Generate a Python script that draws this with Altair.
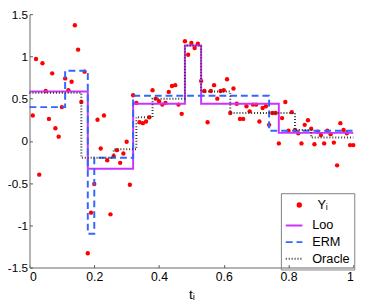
import altair as alt
import pandas as pd

# ---- data ----
t_vals = [0.01, 0.02, 0.03, 0.04, 0.05, 0.06, 0.07, 0.08, 0.09, 0.10,
          0.11, 0.12, 0.13, 0.14, 0.15, 0.16, 0.17, 0.18, 0.19, 0.20,
          0.21, 0.22, 0.23, 0.24, 0.25, 0.26, 0.27, 0.28, 0.29, 0.30,
          0.31, 0.32, 0.33, 0.34, 0.35, 0.36, 0.37, 0.38, 0.39, 0.40,
          0.41, 0.42, 0.43, 0.44, 0.45, 0.46, 0.47, 0.48, 0.49, 0.50,
          0.51, 0.52, 0.53, 0.54, 0.55, 0.56, 0.57, 0.58, 0.59, 0.60,
          0.61, 0.62, 0.63, 0.64, 0.65, 0.66, 0.67, 0.68, 0.69, 0.70,
          0.71, 0.72, 0.73, 0.74, 0.75, 0.76, 0.77, 0.78, 0.79, 0.80,
          0.81, 0.82, 0.83, 0.84, 0.85, 0.86, 0.87, 0.88, 0.89, 0.90,
          0.91, 0.92, 0.93, 0.94, 0.95, 0.96, 0.97, 0.98, 0.99, 1.00]
y_vals = [0.30, 0.97, -0.40, 0.92, 0.59, 0.26, 0.80, 0.15, 0.05, 0.40,
          0.74, 0.60, 0.70, 1.37, 1.08, 0.46, 0.82, -1.33, -0.85, -0.51,
          0.25, -0.09, 0.30, -0.23, -0.87, -0.18, -0.11, -0.26, -0.15, -0.01,
          -0.52, 0.54, 0.45, 0.22, 0.21, 0.23, 0.28, 0.60, 0.50, 0.47,
          0.43, 0.45, 0.58, 0.65, 0.66, 0.43, 0.32, 1.18, 1.02, 1.16,
          1.10, 1.15, 0.71, 0.59, 0.22, 0.59, 0.66, 0.50, 0.59, 0.60,
          0.73, 0.33, 0.62, 0.44, 0.26, 0.26, 0.41, 0.35, 0.43, 0.43,
          0.23, 0.39, 0.41, 0.19, 0.33, 0.33, -0.03, 0.27, 0.46, 0.12,
          0.34, 0.13, 0.09, -0.03, 0.19, 0.245, 0.145, -0.04, 0.11, 0.07,
          -0.03, 0.12, 0.08, -0.02, -0.29, 0.21, 0.13, 0.09, -0.05, -0.05]

loo_t = [0.0, 0.18, 0.32, 0.48, 0.53, 0.77, 1.0]
loo_v = [0.585, -0.33, 0.44, 1.13, 0.44, 0.095, 0.095]
erm_t = [0.0, 0.11, 0.18, 0.20, 0.32, 0.74, 1.0]
erm_v = [0.40, 0.83, -1.10, -0.20, 0.535, 0.12, 0.12]
oracle_t = [0.0, 0.16, 0.26, 0.33, 0.38, 0.48, 0.53, 0.62, 0.82, 0.87, 1.0]
oracle_v = [0.57, -0.20, -0.10, 0.28, 0.50, 1.13, 0.585, 0.33, 0.13, 0.04, 0.04]

x_ticks = [0, 0.2, 0.4, 0.6, 0.8, 1]
y_ticks = [-1.5, -1, -0.5, 0, 0.5, 1, 1.5]
series_names = ["Loo", "ERM", "Oracle"]
point_name = "Y\u1d62"

pts = pd.DataFrame({"t": t_vals, "v": y_vals, "series": point_name})
steps = pd.concat([
    pd.DataFrame({"t": loo_t, "v": loo_v, "series": "Loo"}),
    pd.DataFrame({"t": erm_t, "v": erm_v, "series": "ERM"}),
    pd.DataFrame({"t": oracle_t, "v": oracle_v, "series": "Oracle"}),
], ignore_index=True)

W, H = 331, 259
FONT = "Liberation Sans"

x_scale = alt.Scale(domain=[0, 1], nice=False, zero=False)
y_scale = alt.Scale(domain=[-1.5, 1.5], nice=False, zero=False)

axis_common = dict(grid=False, ticks=False, domainColor="#9a9a9a", domainWidth=1.5,
                   labelColor="#000000", labelFont=FONT, format="~g")

points = alt.Chart(pts).mark_circle(size=20, opacity=1).encode(
    x=alt.X("t:Q", scale=x_scale,
            axis=alt.Axis(values=x_ticks, title="t\u1d62", titleFontSize=14,
                          titleFontWeight="normal", titleFont=FONT, titleColor="#000000",
                          titlePadding=5, labelPadding=3, labelFontSize=12.5, **axis_common)),
    y=alt.Y("v:Q", scale=y_scale,
            axis=alt.Axis(values=y_ticks, title=None, labelPadding=2, labelFontSize=12,
                          labelExpr="replace(datum.label, '\u2212', '-')", **axis_common)),
    color=alt.Color("series:N",
                    scale=alt.Scale(domain=[point_name], range=["#ff0000"]),
                    legend=alt.Legend(title=None, orient="none", legendX=269.3, legendY=188.5,
                                      padding=0, symbolType="circle", symbolSize=30,
                                      symbolStrokeWidth=0, labelFontSize=13, labelFont=FONT,
                                      labelColor="#000000", labelOffset=12)),
)

line_legend = dict(title="x", titleColor="transparent", titleFontSize=12, titlePadding=7.5,
                   orient="none", legendX=257, legendY=183, padding=4,
                   strokeColor="#808080", symbolType="stroke", symbolSize=289,
                   symbolStrokeWidth=1.5, labelFontSize=13, labelFont=FONT,
                   labelColor="#000000", labelOffset=9, rowPadding=-1.5)

lines = alt.Chart(steps).mark_line(interpolate="step-after").encode(
    x=alt.X("t:Q", scale=x_scale,
            axis=alt.Axis(orient="top", offset=-H, values=x_ticks, labels=False, domain=False,
                          ticks=True, tickSize=3, tickColor="#555555", tickWidth=1,
                          grid=False, title=None)),
    y=alt.Y("v:Q", scale=y_scale,
            axis=alt.Axis(orient="right", offset=-W, values=y_ticks, labels=False, domain=False,
                          ticks=True, tickSize=3, tickColor="#555555", tickWidth=1,
                          grid=False, title=None)),
    stroke=alt.Stroke("series:N",
                      scale=alt.Scale(domain=series_names, range=["#cc33ff", "#3366ff", "#333333"]),
                      legend=alt.Legend(**line_legend)),
    strokeDash=alt.StrokeDash("series:N",
                              scale=alt.Scale(domain=series_names, range=[[1, 0], [7, 4], [1, 2]]),
                              legend=alt.Legend(**line_legend)),
    strokeWidth=alt.StrokeWidth("series:N",
                                scale=alt.Scale(domain=series_names, range=[2, 2, 1]),
                                legend=None),
)

chart = alt.layer(points, lines).resolve_axis(
    x="independent", y="independent"
).properties(
    width=W, height=H,
    padding={"left": 22, "top": 3, "right": 13, "bottom": 38},
    autosize=alt.AutoSizeParams(type="none"),
).configure(font=FONT).configure_view(stroke="transparent")

chart.save("out.html", embed_options={"renderer": "svg", "actions": False})
